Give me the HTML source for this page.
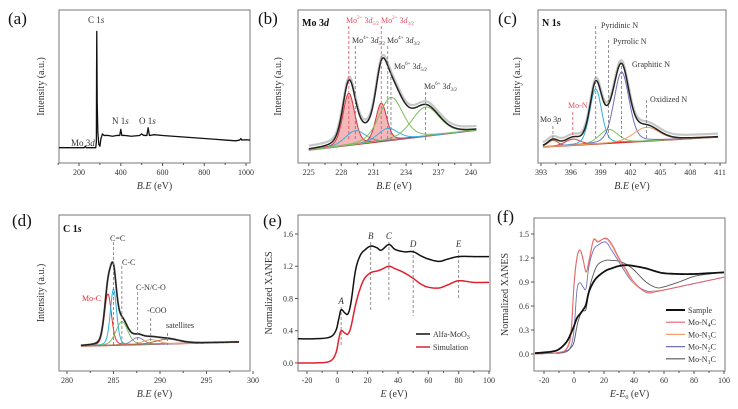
<!DOCTYPE html>
<html><head><meta charset="utf-8"><style>
body{margin:0;background:#fff}
svg,svg text{font-family:"Liberation Serif","DejaVu Serif",serif}
</style></head><body>
<svg id="fig" width="738" height="404" viewBox="0 0 738 404" font-family="Liberation Serif, serif" xmlns="http://www.w3.org/2000/svg"></svg>
<script>
// ---------- data ----------
const surveyX=[104,150,200,225,230,235,280,283,284,285,287,290,295,300,305,312,320,340,360,380,395,400,405,420,450,490,500,510,525,531,537,560,600,650,700,750,800,850,900,950,970,975,980,1000,1019];
const surveyY=[10,10,10,10,11,10,10,14,60,86,40,20,12,11,16,19,18,18,17.5,18,18,22,18,18,17.5,18,19,18,18,23,18,18.5,18,17.5,17,16.5,16,15.5,15,14.5,15,16,15,15.2,15];

const moBg=[8.5,21.5];
const moCenters=[228.7,229.3,231.7,232.3,232.6,235.8];
const moHeights=[34,9,25,8,28,19];
const moWidths=[1.3,2.2,1.2,2.2,2.6,3.0];
const moColors=["#e0303a","#3ab0e0","#e0303a","#3ab0e0","#80c060","#80c060"];

const nBg=[10.5,17];
const nCenters=[394.2,396.2,398.5,399.8,401.1,403.6];
const nHeights=[4,4,36,9,46,9];
const nWidths=[1.2,1.8,1.4,2.2,1.8,3.0];
const nColors=["#a05020","#e03030","#30b0e0","#80c060","#7070c0","#f0a060"];

const cBg=[16,18.6];
const cCenters=[284.4,285.0,285.9,287.6,289.0,290.8];
const cHeights=[33,36,15,4.5,3,3];
const cWidths=[0.9,0.8,1.5,1.5,2,3];
const cColors=["#e03030","#30b0e0","#80c060","#9080c0","#f0a060","#b07040"];

const eX=[-26,-15,-5,-1,1,2.5,5,7,9,12,15,18,22,26,29,34,38,44,50,55,60,67,73,80,90,100];
const eAlfa=[0.3,0.3,0.32,0.4,0.55,0.66,0.62,0.61,0.75,1.15,1.33,1.4,1.45,1.43,1.40,1.47,1.41,1.38,1.38,1.33,1.29,1.26,1.29,1.32,1.32,1.32];
const eSim=[0,0,0.02,0.12,0.3,0.4,0.37,0.36,0.45,0.72,0.92,1.05,1.12,1.14,1.16,1.2,1.17,1.12,1.05,0.98,0.94,0.93,0.97,1.02,1.0,1.0];
const eMarkX=[2.5,22,34,50,80];
const eMarkLbl=["A","B","C","D","E"];

const fX=[-26,-15,-10,-5,-2,0,2,4,6,8,10,13,16,21,25,30,35,40,48,55,60,70,80,90,100];
const fSample=[0.01,0.03,0.06,0.15,0.26,0.35,0.45,0.5,0.55,0.62,0.78,0.9,0.97,1.04,1.07,1.1,1.11,1.1,1.07,1.03,1.01,1.0,1.0,1.01,1.02];
const fN4=[0,0.01,0.02,0.06,0.25,0.85,1.2,1.3,1.18,1.03,1.15,1.42,1.4,1.45,1.38,1.2,1.05,0.9,0.77,0.78,0.8,0.84,0.88,0.92,0.96];
const fN3=[0,0.01,0.02,0.07,0.3,0.9,1.22,1.3,1.2,1.02,1.18,1.43,1.41,1.44,1.36,1.18,1.03,0.88,0.78,0.79,0.8,0.84,0.88,0.92,0.96];
const fN2=[0,0.01,0.02,0.04,0.1,0.3,0.8,0.89,0.84,0.82,1.1,1.3,1.36,1.4,1.3,1.15,1.0,0.88,0.79,0.79,0.8,0.84,0.88,0.92,0.96];
const fN1=[0,0.01,0.01,0.03,0.08,0.15,0.35,0.48,0.54,0.56,0.8,1.0,1.12,1.17,1.17,1.16,1.12,1.05,0.9,0.83,0.84,0.9,0.97,1.0,1.02];
const fNames=["Sample","Mo-N4C","Mo-N3C","Mo-N2C","Mo-N1C"];

// ---------- helpers ----------
const NS="http://www.w3.org/2000/svg";
const svg=document.getElementById('fig');
function el(tag,attrs,parent){const e=document.createElementNS(NS,tag);for(const k in attrs)e.setAttribute(k,attrs[k]);(parent||svg).appendChild(e);return e;}
function panel(id,x0,x1,y0,y1,xmin,xmax,ymin,ymax){
  const g=el('g',{});
  
  
  const p={g,x0,x1,y0,y1,sx:v=>x0+(v-xmin)/(xmax-xmin)*(x1-x0),sy:v=>y1-(v-ymin)/(ymax-ymin)*(y1-y0)};
  const f=el('rect',{x:x0,y:y0,width:x1-x0,height:y1-y0,fill:'none',stroke:'#777','stroke-width':1},g);
  
  
  return p;
}
function txt(p,x,y,s,opts){const t=el('text',Object.assign({x,y,'font-size':9,fill:'#333'},opts||{}),p.g);t.innerHTML=s;return t;}
function xticks(p,vals,minor,fmt){
  const ax=el('g',{},p.g);
  
  
  vals.forEach(v=>{const X=p.sx(v);el('line',{x1:X,x2:X,y1:p.y1,y2:p.y1+3,stroke:'#555'},ax);
    const t=el('text',{x:X,y:p.y1+12,'font-size':8,'text-anchor':'middle',fill:'#333'},ax);t.textContent=fmt?fmt(v):v;
    
    });
  minor.forEach(v=>{const X=p.sx(v);el('line',{x1:X,x2:X,y1:p.y1,y2:p.y1+2,stroke:'#555'},ax);});
}
function yticks(p,vals,fmt){
  const ax=el('g',{},p.g);
  
  
  vals.forEach(v=>{const Y=p.sy(v);el('line',{x1:p.x0-3,x2:p.x0,y1:Y,y2:Y,stroke:'#555'},ax);
    const t=el('text',{x:p.x0-5,y:Y+3,'font-size':8,'text-anchor':'end',fill:'#333'},ax);t.textContent=fmt(v);
    
    });
}
function ylabel(p,x,s){const t=el('text',{x:0,y:0,'font-size':10,'text-anchor':'middle',fill:'#333',transform:`translate(${x},${(p.y0+p.y1)/2}) rotate(-90)`},p.g);t.innerHTML=s;
  
  }
function xlabel(p,s){const t=el('text',{x:(p.x0+p.x1)/2,y:p.y1+26,'font-size':10,'text-anchor':'middle',fill:'#333'},p.g);t.innerHTML=s;
  
  }
function letter(x,y,s){const t=el('text',{x,y,'font-size':17,fill:'#111'});t.textContent=s;
  
  }
function line(p,xs,ys,color,w,name){
  const d=xs.map((x,i)=>(i?'L':'M')+p.sx(x).toFixed(2)+','+p.sy(ys[i]).toFixed(2)).join('');
  const pa=el('path',{d,fill:'none',stroke:color,'stroke-width':w,'stroke-linejoin':'round'},p.g);
  
  
  return pa;
}
function smooth(xs,ys,n){
  const X=[],Y=[];
  for(let i=0;i<xs.length-1;i++){const i0=Math.max(0,i-1),i3=Math.min(xs.length-1,i+2);
    for(let k=0;k<n;k++){const t=k/n,t2=t*t,t3=t2*t;
      const c=(a,b,c2,d)=>0.5*((2*b)+(-a+c2)*t+(2*a-5*b+4*c2-d)*t2+(-a+3*b-3*c2+d)*t3);
      X.push(c(xs[i0],xs[i],xs[i+1],xs[i3]));Y.push(c(ys[i0],ys[i],ys[i+1],ys[i3]));}}
  X.push(xs[xs.length-1]);Y.push(ys[ys.length-1]);return [X,Y];
}
function pv(x,c,h,w){const u=(x-c)/w;return h*(0.75*Math.exp(-4*Math.LN2*u*u)+0.25/(1+4*u*u));}
function dash(p,x,yTop,yBot,color){const l=el('line',{x1:p.sx(x),x2:p.sx(x),y1:yTop,y2:yBot,stroke:color,'stroke-dasharray':'3,2','stroke-width':0.8},p.g);
  
  }
function xps(p,xmin,xmax,bg,cen,hts,wid,cols,fillIdx,rawOff){
  const xs=[];for(let x=xmin;x<=xmax+1e-9;x+=(xmax-xmin)/300)xs.push(x);
  const b=x=>bg[0]+(bg[1]-bg[0])*(x-xmin)/(xmax-xmin);
  const env=xs.map(x=>b(x)+cen.reduce((s,c,i)=>s+pv(x,c,hts[i],wid[i]),0));
  line(p,xs,env.map(v=>v+rawOff),'#c8c8c8',2.2,'raw-data');
  line(p,xs,xs.map(b),'#c04040',1.6,'background');
  cen.forEach((c,i)=>{const ys=xs.map(x=>b(x)+pv(x,c,hts[i],wid[i]));
    if(fillIdx.includes(i)){const d=xs.map((x,j)=>(j?'L':'M')+p.sx(x)+','+p.sy(ys[j])).join('')+xs.slice().reverse().map(x=>'L'+p.sx(x)+','+p.sy(b(x))).join('')+'Z';
      const f=el('path',{d,fill:cols[i],'fill-opacity':0.35,stroke:'none'},p.g);
      
      }
    line(p,xs,ys,cols[i],1,'fit-component');});
  line(p,xs,env,'#222',1.5,'fit-envelope');
}

// ---------- (a) ----------
letter(8,24,"(a)");
const pa=panel('a',59,250,10,163,104,1019,0,100);
line(pa,surveyX,surveyY,'#111',1.3,'survey-spectrum');
xticks(pa,[200,400,600,800,1000],[100,300,500,700,900]);
ylabel(pa,44,"Intensity (a.u.)");
xlabel(pa,"<tspan font-style='italic'>B.E</tspan> (eV)");
txt(pa,88,23,"C 1<tspan font-style='italic'>s</tspan>");
txt(pa,112,124,"N 1<tspan font-style='italic'>s</tspan>");
txt(pa,139,124,"O 1<tspan font-style='italic'>s</tspan>");
txt(pa,71,146,"Mo 3<tspan font-style='italic'>d</tspan>");

// ---------- (b) ----------
letter(258,24,"(b)");
const pb=panel('b',298,490,10,163,224,241.76,0,100);
xps(pb,225,240.5,moBg,moCenters,moHeights,moWidths,moColors,[0,2],2);
xticks(pb,[225,228,231,234,237,240],[226.5,229.5,232.5,235.5,238.5]);
ylabel(pb,281,"Intensity (a.u.)");
xlabel(pb,"<tspan font-style='italic'>B.E</tspan> (eV)");
txt(pb,302,26,"Mo 3<tspan font-style='italic'>d</tspan>",{'font-weight':'bold','font-size':10,fill:'#111'});
[[228.7,26,'#e05060'],[229.3,46,'#777'],[231.7,26,'#e05060'],[232.3,46,'#777'],[232.6,72,'#777'],[235.8,92,'#777']].forEach(m=>dash(pb,m[0],m[1],140,m[2]));
const sup=(a,b)=>`Mo<tspan font-size='5' dy='-4'>${a}</tspan><tspan dy='4'> 3</tspan><tspan font-style='italic'>d</tspan><tspan font-size='5' dy='2'>${b}</tspan>`;
txt(pb,346,23,sup('2+','5/2'),{fill:'#e05060','font-size':8});
txt(pb,381,23,sup('2+','3/2'),{fill:'#e05060','font-size':8});
txt(pb,352,43,sup('4+','5/2'),{'font-size':8});
txt(pb,387,43,sup('4+','3/2'),{'font-size':8});
txt(pb,394,69,sup('6+','5/2'),{'font-size':8});
txt(pb,424,89,sup('6+','3/2'),{'font-size':8});

// ---------- (c) ----------
letter(498,24,"(c)");
const pc=panel('c',538,726,10,163,392.7,411.6,0,100);
xps(pc,393.2,410.8,nBg,nCenters,nHeights,nWidths,nColors,[],2);
xticks(pc,[393,396,399,402,405,408,411],[394.5,397.5,400.5,403.5,406.5,409.5]);
ylabel(pc,520,"Intensity (a.u.)");
xlabel(pc,"<tspan font-style='italic'>B.E</tspan> (eV)");
txt(pc,542,26,"N 1s",{'font-weight':'bold','font-size':10,fill:'#111'});
[[398.5,26,'#777'],[399.8,40,'#777'],[401.1,66,'#777'],[403.6,100,'#777'],[396.2,112,'#e05060'],[394.2,126,'#777']].forEach(m=>dash(pc,m[0],m[1],138,m[2]));
txt(pc,601,28,"Pyridinic N",{'font-size':8});
txt(pc,613,44,"Pyrrolic N",{'font-size':8});
txt(pc,632,67,"Graphitic N",{'font-size':8});
txt(pc,650,102,"Oxidized N",{'font-size':8});
txt(pc,568,108,"Mo-N",{'font-size':8,fill:'#e05060'});
txt(pc,540,122,"Mo 3<tspan font-style='italic'>p</tspan>",{'font-size':8});

// ---------- (d) ----------
letter(12,226,"(d)");
const pd=panel('d',59,250,215,371,279.14,299.68,0,100);
xps(pd,281.5,298.5,cBg,cCenters,cHeights,cWidths,cColors,[],0);
xticks(pd,[280,285,290,295,300],[282.5,287.5,292.5,297.5]);
ylabel(pd,44,"Intensity (a.u.)");
xlabel(pd,"<tspan font-style='italic'>B.E</tspan> (eV)");
txt(pd,63,232,"C 1<tspan font-style='italic'>s</tspan>",{'font-weight':'bold','font-size':10,fill:'#111'});
[[285.0,242],[285.9,266],[287.6,292],[289.0,318],[290.8,333]].forEach(m=>dash(pd,m[0],m[1],345,'#777'));
txt(pd,110,241,"C=C",{'font-size':8});
txt(pd,122,265,"C-C",{'font-size':8});
txt(pd,136,290,"C-N/C-O",{'font-size':8});
txt(pd,147,313,"-COO",{'font-size':8});
txt(pd,166,328,"satellites",{'font-size':8});
txt(pd,82,301,"Mo-C",{'font-size':8,fill:'#e03030'});

// ---------- (e) ----------
letter(263,226,"(e)");
const pe=panel('e',298,490,215,371,-25.93,100.66,-0.1,1.836);
xticks(pe,[-20,0,20,40,60,80,100],[-10,10,30,50,70,90]);
yticks(pe,[0,0.4,0.8,1.2,1.6],v=>v.toFixed(1));
ylabel(pe,272,"Normalized XANES");
xlabel(pe,"<tspan font-style='italic'>E</tspan> (eV)");
const eTop=[307,242,242,250,250], eBot=[345,312,302,316,298];
eMarkX.forEach((x,i)=>{dash(pe,x,eTop[i],eBot[i],'#777');
  txt(pe,pe.sx(x),eTop[i]-3,eMarkLbl[i],{'font-size':9,'font-style':'italic','text-anchor':'middle'});});
{const [X1,Y1]=smooth(eX,eAlfa,8);line(pe,X1,Y1,'#111',1.5,'series-alfa-moo3');}
{const [X2,Y2]=smooth(eX,eSim,8);line(pe,X2,Y2,'#e02030',1.5,'series-simulation');}
[['Alfa-MoO<tspan font-size="6" dy="2">3</tspan>','#111',334],['Simulation','#e02030',347]].forEach(l=>{
  const lg=el('g',{},pe.g);
  
  
  el('line',{x1:416,x2:430,y1:l[2],y2:l[2],stroke:l[1],'stroke-width':1.5},lg);
  const t=el('text',{x:433,y:l[2]+3,'font-size':8,fill:'#333'},lg);t.innerHTML=l[0];});

// ---------- (f) ----------
letter(497,222,"(f)");
const pf=panel('f',534,725,218,371,-26.67,100.67,-0.2125,1.7);
xticks(pf,[-20,0,20,40,60,80,100],[-10,10,30,50,70,90]);
yticks(pf,[0,0.3,0.6,0.9,1.2,1.5],v=>v.toFixed(1));
ylabel(pf,508,"Normalized XANES");
xlabel(pf,"<tspan font-style='italic'>E-E</tspan><tspan font-size='6' dy='2'>0</tspan><tspan dy='-2'> (eV)</tspan>");
const fSeries=[fSample,fN4,fN3,fN2,fN1], fCols=['#111','#e06070','#f4a070','#7070c0','#555'], fW=[1.8,0.9,0.9,0.9,0.9];
[4,3,2,1,0].forEach(i=>{const [X,Y]=smooth(fX,fSeries[i],8);line(pf,X,Y,fCols[i],fW[i],'series-'+fNames[i].toLowerCase());});
const fLbl=['Sample','Mo-N<tspan font-size="6" dy="2">4</tspan><tspan dy="-2">C</tspan>','Mo-N<tspan font-size="6" dy="2">3</tspan><tspan dy="-2">C</tspan>','Mo-N<tspan font-size="6" dy="2">2</tspan><tspan dy="-2">C</tspan>','Mo-N<tspan font-size="6" dy="2">1</tspan><tspan dy="-2">C</tspan>'];
fLbl.forEach((s,i)=>{const Y=310+i*12.2;
  const lg=el('g',{},pf.g);
  
  
  el('line',{x1:666,x2:685,y1:Y,y2:Y,stroke:fCols[i],'stroke-width':fW[i]+0.3},lg);
  const t=el('text',{x:688,y:Y+3,'font-size':8,fill:'#333'},lg);t.innerHTML=s;});
</script>
</body></html>
